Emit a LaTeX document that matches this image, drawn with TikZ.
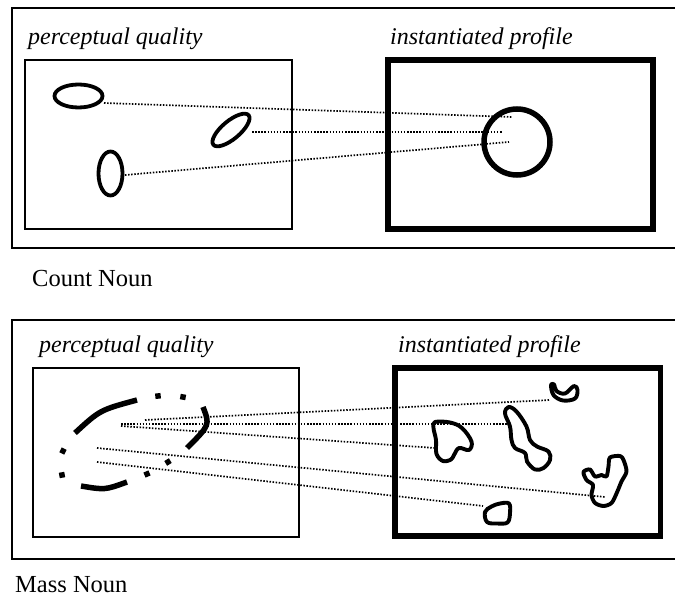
\documentclass[tikz,border=0pt]{standalone}
\usepackage{fontspec}
\setmainfont{Liberation Serif}
\usetikzlibrary{shapes.geometric}
\begin{document}
\begin{tikzpicture}[x=1pt,y=-1pt,
  frame/.style={line width=2pt},
  thinbox/.style={draw, line width=1.6pt, inner sep=0pt},
  thickbox/.style={draw, line width=5.8pt, inner sep=0pt},
  lbl/.style={anchor=base west, inner sep=0pt, font=\fontsize{24}{28}\selectfont\itshape},
  capt/.style={anchor=base west, inner sep=0pt, font=\fontsize{24.5}{28}\selectfont},
  conn/.style={line width=1.7pt, dash pattern=on 1.5pt off 1.6pt},
  oval/.style={draw, ellipse, line width=3.8pt, inner sep=0pt},
  blob/.style={draw, line width=3.9pt, line join=round},
  brk/.style={line width=5.5pt, line cap=butt},
]
\useasboundingbox (0,0) rectangle (675,596);

% ---------- top panel (count noun) ----------
\draw[frame] (680,8) -- (12,8) -- (12,248) -- (680,248);
\node[lbl] (lpq1) at (28,45) {perceptual quality};
\node[lbl] (lip1) at (390,45) {instantiated profile};
\node[thinbox, minimum width=267pt, minimum height=169pt] (pq1) at (158.5,144.5) {};
\node[thickbox, minimum width=265pt, minimum height=169pt] (ip1) at (520.5,144.5) {};
\node[draw, circle, line width=5.5pt, minimum size=66pt, inner sep=0pt] (c1) at (517,142) {};
\node[oval, minimum width=48pt, minimum height=23pt] (e1) at (78.5,96) {};
\node[oval, minimum width=46pt, minimum height=18pt, rotate=40] (e2) at (231,130) {};
\node[oval, minimum width=24pt, minimum height=44pt] (e3) at (110.5,173.5) {};
\draw[conn] ([shift={(25.5,7)}]e1.center) -- ([shift={(-5,-25)}]c1.center);
\draw[conn] ([shift={(21,2)}]e2.center) -- ([shift={(-14,-10)}]c1.center);
\draw[conn] ([shift={(14.5,1.5)}]e3.center) -- ([shift={(-8,0)}]c1.center);
\node[capt] (cn) at (32,287) {Count Noun};

% ---------- bottom panel (mass noun) ----------
\draw[frame] (680,320) -- (12,320) -- (12,559) -- (680,559);
\node[lbl] (lpq2) at (39,352) {perceptual quality};
\node[lbl] (lip2) at (398,352) {instantiated profile};
\node[thinbox, minimum width=266pt, minimum height=169pt] (pq2) at (166,452.5) {};
\node[thickbox, minimum width=265.5pt, minimum height=168pt] (ip2) at (527.75,452) {};

% broken ellipse
\node[inner sep=0pt, minimum size=0pt] (be) at (131,440) {};
\draw[brk] (75,433) .. controls (100,410) .. (137,400);
\draw[brk] (203,407) .. controls (210,425) .. (187,448);
\draw[brk] (127,482) .. controls (105,490) .. (81,486);
\draw[brk] (155.3,396.3) -- (160.7,395.7);
\draw[brk] (180.3,396.5) -- (185.7,397.5);
\draw[brk] (170.3,460.6) -- (165.7,463.4);
\draw[brk] (149.5,472.9) -- (144.5,475.1);
\draw[brk] (62.5,477.7) -- (61.5,472.3);
\draw[brk] (61.8,453.4) -- (64.2,448.6);

% blobs
\draw[blob] plot[smooth cycle, tension=0.6] coordinates {(551,385) (553.5,395) (563,400.5) (575,398.5) (577.5,390) (574,386) (565,393.5) (556.5,391) (554,384.5)};
\draw[blob] plot[smooth cycle, tension=0.6] coordinates {(435,422) (450,422.5) (462,428) (471.5,441.5) (469,450) (459,448) (454,455) (451,459.5) (443,461) (436.5,454) (436,440) (433.5,428)};
\draw[blob] plot[smooth cycle, tension=0.6] coordinates {(508.5,407) (516.5,411.5) (526.5,426.5) (530,440) (537,446.5) (548.5,451.5) (550,460) (543.5,468) (535,469.5) (527,461.5) (525,453) (515,448) (511.5,440) (510,426.5) (505,413.5)};
\draw[blob] plot[smooth cycle, tension=0.5] coordinates {(583.5,472) (590,469.5) (595,476.5) (601.5,475) (606.5,476.5) (608.5,466.5) (610,457.5) (620,456) (623.5,460) (626.5,471.5) (621.5,481.5) (616.5,493.5) (611.5,503) (603.5,506) (595,503) (591.5,495) (593,485) (586.5,480)};
\draw[blob] plot[smooth cycle, tension=0.6] coordinates {(485,512) (491.5,506.5) (500,503.5) (509,503.5) (510,513) (507.5,522.5) (497,523.5) (487,522)};

\coordinate (b1) at (550,400);
\coordinate (b2) at (508,424);
\coordinate (b3) at (435,448);
\coordinate (b4) at (605,497);
\coordinate (b5) at (483,506);
\draw[conn] ([shift={(14,-20)}]be.center) -- (b1);
\draw[conn] ([shift={(-10,-16)}]be.center) -- (b2);
\draw[conn] ([shift={(-10,-14)}]be.center) -- (b3);
\draw[conn] ([shift={(-34,8)}]be.center) -- (b4);
\draw[conn] ([shift={(-34,22)}]be.center) -- (b5);
\node[capt] (mn) at (15,592) {Mass Noun};
\end{tikzpicture}
\end{document}
